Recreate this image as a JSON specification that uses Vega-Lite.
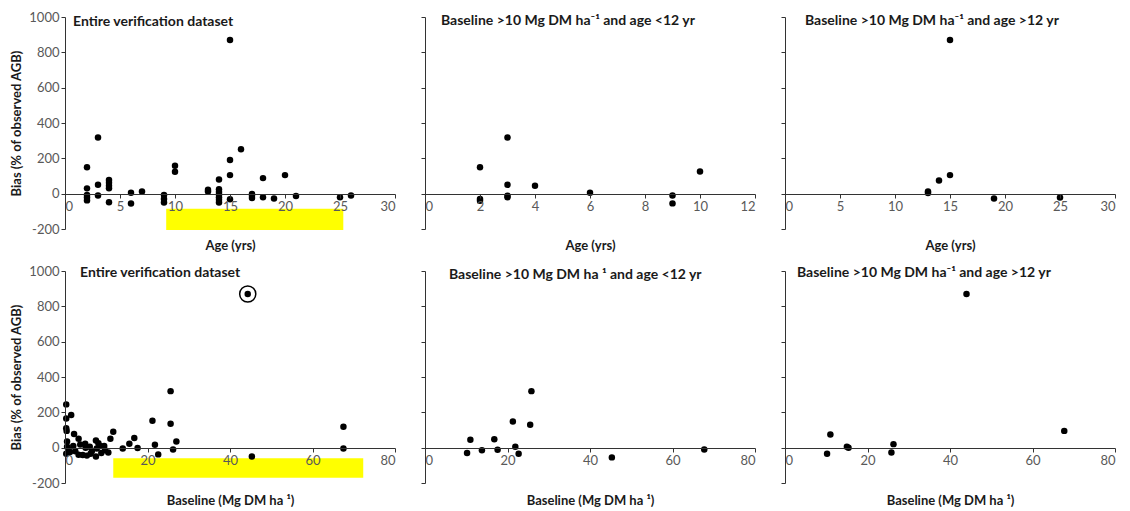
{
  "$schema": "https://vega.github.io/schema/vega-lite/v6.json",
  "padding": {"left": 10, "top": 11, "right": 5, "bottom": 0},
  "background": "white",
  "datasets": {
    "ageAll": [
      {"age": 2, "bias": 150}, {"age": 2, "bias": 30}, {"age": 2, "bias": -8}, {"age": 2, "bias": -22}, {"age": 2, "bias": -38},
      {"age": 3, "bias": 318}, {"age": 3, "bias": 50}, {"age": 3, "bias": -10},
      {"age": 4, "bias": 78}, {"age": 4, "bias": 62}, {"age": 4, "bias": 45}, {"age": 4, "bias": 30}, {"age": 4, "bias": -48},
      {"age": 6, "bias": 5}, {"age": 6, "bias": -56},
      {"age": 7, "bias": 12},
      {"age": 9, "bias": -8}, {"age": 9, "bias": -30}, {"age": 9, "bias": -50},
      {"age": 10, "bias": 158}, {"age": 10, "bias": 124},
      {"age": 13, "bias": 22}, {"age": 13, "bias": 12},
      {"age": 14, "bias": 80}, {"age": 14, "bias": 25}, {"age": 14, "bias": 10}, {"age": 14, "bias": -5}, {"age": 14, "bias": -20}, {"age": 14, "bias": -35}, {"age": 14, "bias": -50},
      {"age": 15, "bias": 870}, {"age": 15, "bias": 190}, {"age": 15, "bias": 105}, {"age": 15, "bias": -32},
      {"age": 16, "bias": 252},
      {"age": 17, "bias": -2}, {"age": 17, "bias": -12}, {"age": 17, "bias": -24},
      {"age": 18, "bias": 88}, {"age": 18, "bias": -20},
      {"age": 19, "bias": -28},
      {"age": 20, "bias": 105},
      {"age": 21, "bias": -13},
      {"age": 25, "bias": -20},
      {"age": 26, "bias": -10}
    ],
    "ageYoung": [
      {"age": 2, "bias": 150}, {"age": 2, "bias": -30}, {"age": 2, "bias": -40},
      {"age": 3, "bias": 318}, {"age": 3, "bias": 50}, {"age": 3, "bias": -12}, {"age": 3, "bias": -20},
      {"age": 4, "bias": 45}, {"age": 6, "bias": 5},
      {"age": 9, "bias": -10}, {"age": 9, "bias": -55}, {"age": 10, "bias": 125}
    ],
    "ageOld": [
      {"age": 13, "bias": 12}, {"age": 13, "bias": 4}, {"age": 14, "bias": 75},
      {"age": 15, "bias": 870}, {"age": 15, "bias": 105}, {"age": 19, "bias": -28}, {"age": 25, "bias": -22}
    ],
    "baseAll": [
      {"base": 0.3, "bias": 245}, {"base": 1.5, "bias": 185}, {"base": 0.3, "bias": 165}, {"base": 0.3, "bias": 110}, {"base": 0.4, "bias": 95},
      {"base": 2.2, "bias": 78}, {"base": 3.3, "bias": 50}, {"base": 0.5, "bias": 35}, {"base": 0.5, "bias": 5}, {"base": 0.8, "bias": -10},
      {"base": 1.2, "bias": -25}, {"base": 0.3, "bias": -35}, {"base": 3.7, "bias": 18}, {"base": 4.9, "bias": 22}, {"base": 2.5, "bias": -20},
      {"base": 3.3, "bias": -40}, {"base": 4.3, "bias": -42}, {"base": 5.3, "bias": -45}, {"base": 6.2, "bias": -35}, {"base": 6.5, "bias": -20},
      {"base": 7.5, "bias": 40}, {"base": 8.1, "bias": 25}, {"base": 8.5, "bias": 10}, {"base": 7.7, "bias": -5}, {"base": 7.5, "bias": -50},
      {"base": 8.8, "bias": -30}, {"base": 9.7, "bias": -15}, {"base": 10.5, "bias": -28}, {"base": 11, "bias": 50}, {"base": 11.7, "bias": 90},
      {"base": 2, "bias": 10}, {"base": 5, "bias": 0}, {"base": 6, "bias": 5}, {"base": 9.5, "bias": 10},
      {"base": 14, "bias": -5}, {"base": 15.6, "bias": 22}, {"base": 16.8, "bias": 55}, {"base": 17.6, "bias": -2},
      {"base": 21.2, "bias": 152}, {"base": 21.8, "bias": 16}, {"base": 22.6, "bias": -38},
      {"base": 25.6, "bias": 320}, {"base": 25.6, "bias": 135}, {"base": 27, "bias": 35}, {"base": 26.2, "bias": -10},
      {"base": 44.3, "bias": 870}, {"base": 45.3, "bias": -50}, {"base": 67.5, "bias": 118}, {"base": 67.5, "bias": -5}
    ],
    "baseYoung": [
      {"base": 11, "bias": 45}, {"base": 10.2, "bias": -30}, {"base": 13.8, "bias": -15}, {"base": 16.8, "bias": 47},
      {"base": 17.6, "bias": -12}, {"base": 21.3, "bias": 148}, {"base": 21.9, "bias": 5}, {"base": 22.7, "bias": -35},
      {"base": 25.8, "bias": 320}, {"base": 25.5, "bias": 130}, {"base": 45.3, "bias": -55}, {"base": 67.7, "bias": -10}
    ],
    "baseOld": [
      {"base": 11, "bias": 75}, {"base": 10.2, "bias": -35}, {"base": 15, "bias": 5}, {"base": 15.4, "bias": 0},
      {"base": 26.3, "bias": 20}, {"base": 25.8, "bias": -28}, {"base": 44, "bias": 870}, {"base": 67.7, "bias": 95}
    ],
    "hlAge": [{"age": 9.2, "age2": 25.3, "bias": -85, "bias2": -205}],
    "hlBase": [{"base": 11.7, "base2": 72.3, "bias": -60, "bias2": -170}],
    "circled": [{"base": 44.3, "bias": 870}]
  },
  "config": {
    "view": {"stroke": null},
    "font": "Lato",
    "axis": {
      "grid": false,
      "domain": true,
      "ticks": true,
      "domainColor": "#333333",
      "domainWidth": 1,
      "tickColor": "#333333",
      "tickSize": 4,
      "labelColor": "#595959",
      "labelFont": "Lato",
      "labelFontSize": 13,
      "titleFont": "Lato",
      "titleFontSize": 13,
      "titleFontWeight": "bold",
      "titleColor": "#1a1a1a"
    },
    "title": {"font": "Lato", "fontSize": 14, "fontWeight": "bold", "color": "#1a1a1a", "anchor": "start", "frame": "group", "baseline": "top"},
    "point": {"filled": true, "color": "black", "size": 42, "opacity": 1}
  },
  "columns": 3,
  "spacing": {"row": 42, "column": 30},
  "bounds": "flush",
  "concat": [
    {
      "width": 330, "height": 212,
      "title": {"text": "Entire verification dataset", "offset": -18, "dx": 8},
      "encoding": {
        "x": {"field": "age", "type": "quantitative", "title": "Age (yrs)", "scale": {"domain": [0, 30], "nice": false},
              "axis": {"values": [0, 5, 10, 15, 20, 25, 30], "offset": -35, "zindex": 1, "titlePadding": 26, "labelOverlap": false}},
        "y": {"field": "bias", "type": "quantitative", "title": "Bias (% of observed AGB)", "scale": {"domain": [-200, 1000], "nice": false},
              "axis": {"values": [-200, 0, 200, 400, 600, 800, 1000], "labelExpr": "'' + datum.value", "labelOverlap": false, "titlePadding": 5, "zindex": 1, "domain": true, "domainColor": "#333333"}}
      },
      "layer": [
        {
          "data": {"name": "hlAge"},
          "mark": {"type": "rect", "color": "#ffff00"},
          "encoding": {"x2": {"field": "age2"}, "y2": {"field": "bias2"}}
        },
        {
          "data": {"name": "ageAll"},
          "mark": {"type": "point"}
        }
      ]
    },
    {
      "width": 330, "height": 212,
      "title": {"text": "Baseline >10 Mg DM ha⁻¹ and age <12 yr", "offset": -11, "dx": 16},
      "data": {"name": "ageYoung"},
      "mark": {"type": "point"},
      "encoding": {
        "x": {"field": "age", "type": "quantitative", "title": "Age (yrs)", "scale": {"domain": [0, 12], "nice": false},
              "axis": {"values": [0, 2, 4, 6, 8, 10, 12], "offset": -35, "zindex": 1, "titlePadding": 26, "labelOverlap": false}},
        "y": {"field": "bias", "type": "quantitative", "title": null, "scale": {"domain": [-200, 1000], "nice": false},
              "axis": {"values": [-200, 0, 200, 400, 600, 800, 1000], "labels": false, "zindex": 1, "domain": true, "domainColor": "#333333"}}
      }
    },
    {
      "width": 330, "height": 212,
      "title": {"text": "Baseline >10 Mg DM ha⁻¹ and age >12 yr", "offset": -11, "dx": 20},
      "data": {"name": "ageOld"},
      "mark": {"type": "point"},
      "encoding": {
        "x": {"field": "age", "type": "quantitative", "title": "Age (yrs)", "scale": {"domain": [0, 30], "nice": false},
              "axis": {"values": [0, 5, 10, 15, 20, 25, 30], "offset": -35, "zindex": 1, "titlePadding": 26, "labelOverlap": false}},
        "y": {"field": "bias", "type": "quantitative", "title": null, "scale": {"domain": [-200, 1000], "nice": false},
              "axis": {"values": [-200, 0, 200, 400, 600, 800, 1000], "labels": false, "zindex": 1, "domain": true, "domainColor": "#333333"}}
      }
    },
    {
      "width": 330, "height": 212,
      "title": {"text": "Entire verification dataset", "offset": -15, "dx": 15},
      "encoding": {
        "x": {"field": "base", "type": "quantitative", "title": "Baseline (Mg DM ha ¹)", "scale": {"domain": [0, 80], "nice": false},
              "axis": {"values": [0, 20, 40, 60, 80], "offset": -35, "zindex": 1, "titlePadding": 27, "labelOverlap": false}},
        "y": {"field": "bias", "type": "quantitative", "title": "Bias (% of observed AGB)", "scale": {"domain": [-200, 1000], "nice": false},
              "axis": {"values": [-200, 0, 200, 400, 600, 800, 1000], "labelExpr": "'' + datum.value", "labelOverlap": false, "titlePadding": 5, "zindex": 1, "domain": true, "domainColor": "#333333"}}
      },
      "layer": [
        {
          "data": {"name": "hlBase"},
          "mark": {"type": "rect", "color": "#ffff00"},
          "encoding": {"x2": {"field": "base2"}, "y2": {"field": "bias2"}}
        },
        {
          "data": {"name": "baseAll"},
          "mark": {"type": "point"}
        },
        {
          "data": {"name": "circled"},
          "mark": {"type": "point", "filled": false, "stroke": "black", "strokeWidth": 1.5, "size": 260}
        }
      ]
    },
    {
      "width": 330, "height": 212,
      "title": {"text": "Baseline >10 Mg DM ha ¹ and age <12 yr", "offset": -11, "dx": 24},
      "data": {"name": "baseYoung"},
      "mark": {"type": "point"},
      "encoding": {
        "x": {"field": "base", "type": "quantitative", "title": "Baseline (Mg DM ha ¹)", "scale": {"domain": [0, 80], "nice": false},
              "axis": {"values": [0, 20, 40, 60, 80], "offset": -35, "zindex": 1, "titlePadding": 27, "labelOverlap": false}},
        "y": {"field": "bias", "type": "quantitative", "title": null, "scale": {"domain": [-200, 1000], "nice": false},
              "axis": {"values": [-200, 0, 200, 400, 600, 800, 1000], "labels": false, "zindex": 1, "domain": true, "domainColor": "#333333"}}
      }
    },
    {
      "width": 330, "height": 212,
      "title": {"text": "Baseline >10 Mg DM ha⁻¹ and age >12 yr", "offset": -9, "dx": 12},
      "data": {"name": "baseOld"},
      "mark": {"type": "point"},
      "encoding": {
        "x": {"field": "base", "type": "quantitative", "title": "Baseline (Mg DM ha ¹)", "scale": {"domain": [0, 80], "nice": false},
              "axis": {"values": [0, 20, 40, 60, 80], "offset": -35, "zindex": 1, "titlePadding": 27, "labelOverlap": false}},
        "y": {"field": "bias", "type": "quantitative", "title": null, "scale": {"domain": [-200, 1000], "nice": false},
              "axis": {"values": [-200, 0, 200, 400, 600, 800, 1000], "labels": false, "zindex": 1, "domain": true, "domainColor": "#333333"}}
      }
    }
  ]
}
